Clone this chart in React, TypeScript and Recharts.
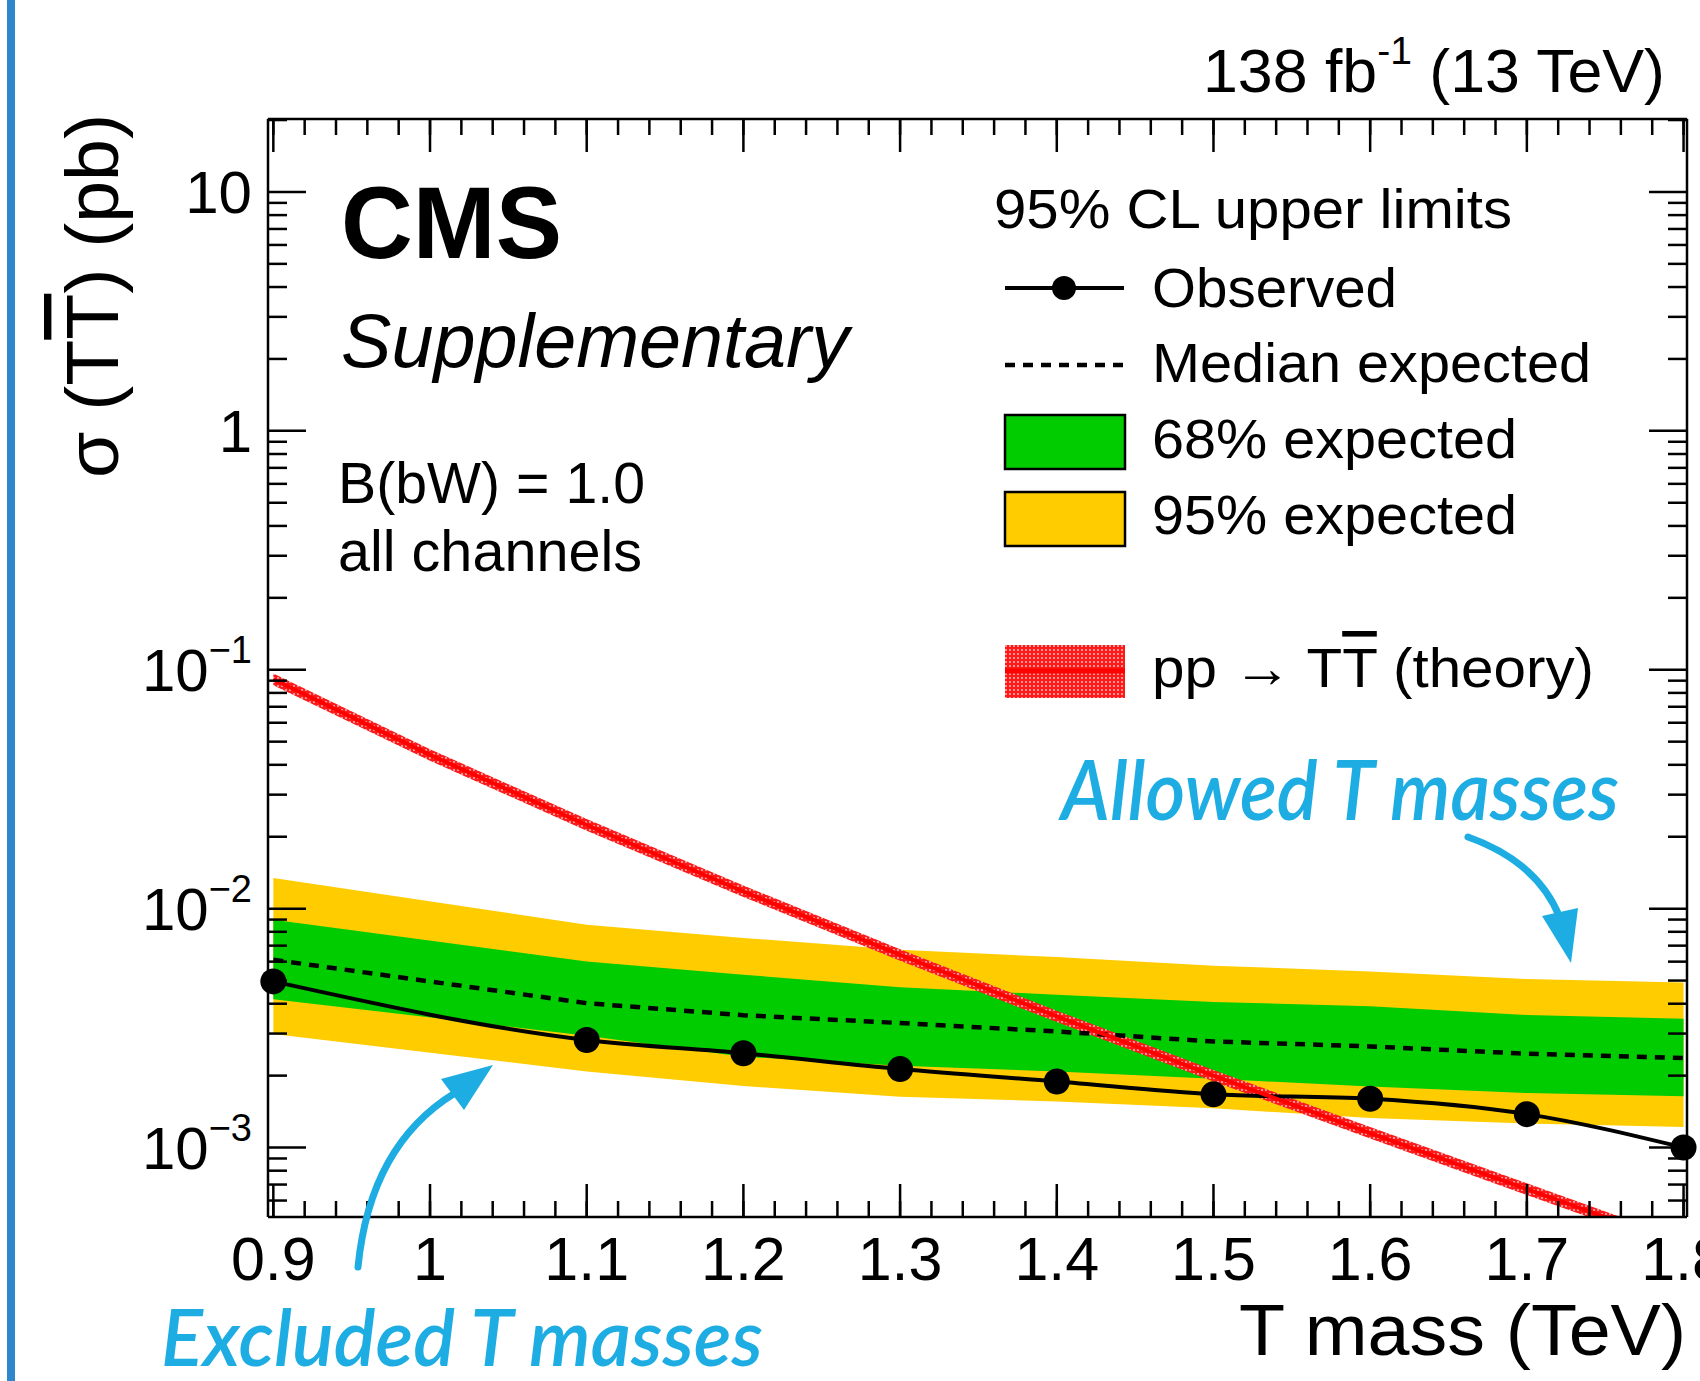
import React from "react";
import { Area, ComposedChart, Line, XAxis, YAxis } from "recharts";

// Limits vs T mass (TeV). No limit point at 1.0 TeV.
const MASS = [0.9, 1.1, 1.2, 1.3, 1.4, 1.5, 1.6, 1.7, 1.8];
const OBSERVED = [0.00496, 0.00282, 0.00248, 0.00213, 0.00189, 0.00167, 0.0016, 0.00138, 0.001];
const EXPECTED = [0.00611, 0.00402, 0.00358, 0.00332, 0.00306, 0.00278, 0.00265, 0.00247, 0.00237];
const EXP68_LO = [0.00418, 0.00294, 0.0024, 0.0022, 0.00208, 0.00194, 0.0018, 0.00169, 0.00164];
const EXP68_HI = [0.00899, 0.00601, 0.00529, 0.00469, 0.00436, 0.00407, 0.0039, 0.00359, 0.00346];
const EXP95_LO = [0.00299, 0.00208, 0.00181, 0.00163, 0.00156, 0.00146, 0.00133, 0.00126, 0.00122];
const EXP95_HI = [0.01345, 0.00857, 0.00754, 0.00673, 0.00627, 0.00577, 0.00546, 0.00507, 0.00491];

// pp -> TTbar theory cross section with its uncertainty band
const THEORY_MASS = [0.9, 1.0, 1.1, 1.2, 1.3, 1.4, 1.5, 1.6, 1.7, 1.8];
const THEORY = [0.0912, 0.044, 0.0224, 0.0118, 0.0064, 0.00354, 0.002, 0.00115, 0.00067, 0.00039];
const THEORY_LO = [0.0862, 0.0416, 0.0212, 0.0112, 0.00605, 0.00335, 0.00189, 0.00109, 0.000633, 0.000369];
const THEORY_HI = [0.0964, 0.0465, 0.0237, 0.0125, 0.00676, 0.00374, 0.00211, 0.00122, 0.000708, 0.000412];

// axis ticks and labels
const X_TICKS = [0.9, 1.0, 1.1, 1.2, 1.3, 1.4, 1.5, 1.6, 1.7, 1.8];
const X_TICK_LABELS = ["0.9", "1", "1.1", "1.2", "1.3", "1.4", "1.5", "1.6", "1.7", "1.8"];
const Y_TICKS = [0.001, 0.01, 0.1, 1, 10];
const Y_TICK_BASE = ["10", "10", "10", "1", "10"];
const Y_TICK_EXP = ["\u22123", "\u22122", "\u22121", "", ""];

const X_DOMAIN: [number, number] = [0.8966, 1.8022];
const Y_DOMAIN: [number, number] = [5.12e-4, 20.2];

// minor ticks: 0.02 TeV steps, 2..9 per decade
const X_MINOR = Array.from({ length: 46 }, (_, k) => 0.9 + 0.02 * k);
const Y_MINOR = [1e-4, 1e-3, 1e-2, 1e-1, 1, 10]
  .flatMap((d) => [2, 3, 4, 5, 6, 7, 8, 9].map((m) => m * d))
  .filter((v) => v >= Y_DOMAIN[0] && v <= Y_DOMAIN[1]);

const limitRows = MASS.map((m, i) => ({
  m,
  obs: OBSERVED[i],
  exp: EXPECTED[i],
  b68: [EXP68_LO[i], EXP68_HI[i]],
  b95: [EXP95_LO[i], EXP95_HI[i]],
}));

const theoryRows = THEORY_MASS.map((m, i) => ({
  m,
  th: THEORY[i],
  thBand: [THEORY_LO[i], THEORY_HI[i]],
}));

const FONT = '"Liberation Sans", Arial, Helvetica, sans-serif';
const BLUE = "#1eade3";
const AXIS = { stroke: "#000", strokeWidth: 2.5 };

// tick lines only, no label
const noLabel = () => <g />;

function XTick(props: any) {
  const { x, y, payload } = props;
  const i = X_TICKS.indexOf(payload.value);
  return (
    <text x={x} y={y} textAnchor="middle" fontSize={61} fontFamily={FONT} fill="#000">
      {X_TICK_LABELS[i]}
    </text>
  );
}

function YTick(props: any) {
  const { x, y, payload } = props;
  const i = Y_TICKS.indexOf(payload.value);
  return (
    <text x={x} y={y} dy={21} textAnchor="end" fontSize={60} fontFamily={FONT} fill="#000">
      {Y_TICK_BASE[i]}
      {Y_TICK_EXP[i] && (
        <tspan fontSize={38} dy={-28}>
          {Y_TICK_EXP[i]}
        </tspan>
      )}
    </text>
  );
}

function Overlay() {
  return (
    <svg
      width={1700}
      height={1381}
      style={{ position: "absolute", left: 0, top: 0, pointerEvents: "none" }}
      fontFamily={FONT}
    >
      <defs>
        <pattern id="hatch" width={4} height={4} patternUnits="userSpaceOnUse">
          <rect width={4} height={4} fill="#ff1a1a" />
          <circle cx={2} cy={2} r={0.9} fill="#ffd0d0" />
        </pattern>
      </defs>

      {/* page side bar */}
      <rect x={7} y={0} width={8} height={1381} fill="#2e86cc" />

      {/* header */}
      <text x={1203} y={92} fontSize={61} textLength={462} lengthAdjust="spacingAndGlyphs">
        138 fb
        <tspan fontSize={38} dy={-28}>-1</tspan>
        <tspan fontSize={61} dy={28}> (13 TeV)</tspan>
      </text>

      <text x={341} y={258} fontSize={102} fontWeight="bold" textLength={221} lengthAdjust="spacingAndGlyphs">
        CMS
      </text>
      <text x={341} y={367} fontSize={76} fontStyle="italic" textLength={508} lengthAdjust="spacingAndGlyphs">
        Supplementary
      </text>
      <text x={338} y={503} fontSize={57} textLength={307} lengthAdjust="spacingAndGlyphs">
        B(bW) = 1.0
      </text>
      <text x={338} y={571} fontSize={57} textLength={304} lengthAdjust="spacingAndGlyphs">
        all channels
      </text>

      {/* axis titles */}
      <text
        transform="translate(118,114) rotate(-90)"
        textAnchor="end"
        fontSize={74}
        textLength={364}
        lengthAdjust="spacingAndGlyphs"
      >
        σ (T<tspan style={{ textDecoration: "overline" }}>T</tspan>) (pb)
      </text>
      <text x={1686} y={1355} textAnchor="end" fontSize={73} textLength={447} lengthAdjust="spacingAndGlyphs">
        T mass (TeV)
      </text>

      {/* legend */}
      <text x={994} y={228} fontSize={56} textLength={518} lengthAdjust="spacingAndGlyphs">
        95% CL upper limits
      </text>
      <line x1={1005} x2={1124} y1={288} y2={288} stroke="#000" strokeWidth={4} />
      <circle cx={1064} cy={288} r={12} fill="#000" />
      <text x={1152} y={307} fontSize={56} textLength={245} lengthAdjust="spacingAndGlyphs">
        Observed
      </text>
      <line x1={1005} x2={1124} y1={365} y2={365} stroke="#000" strokeWidth={4.5} strokeDasharray="10 8" />
      <text x={1152} y={382} fontSize={56} textLength={439} lengthAdjust="spacingAndGlyphs">
        Median expected
      </text>
      <rect x={1005} y={415} width={120} height={54} fill="#00cc00" stroke="#000" strokeWidth={2.5} />
      <text x={1152} y={458} fontSize={56} textLength={365} lengthAdjust="spacingAndGlyphs">
        68% expected
      </text>
      <rect x={1005} y={492} width={120} height={54} fill="#ffcc00" stroke="#000" strokeWidth={2.5} />
      <text x={1152} y={534} fontSize={56} textLength={365} lengthAdjust="spacingAndGlyphs">
        95% expected
      </text>
      <rect x={1005} y={645} width={120} height={53} fill="url(#hatch)" />
      <line x1={1005} x2={1125} y1={671} y2={671} stroke="#ff0000" strokeWidth={5} />
      <text x={1152} y={687} fontSize={56} textLength={442} lengthAdjust="spacingAndGlyphs">
        pp → T<tspan style={{ textDecoration: "overline" }}>T</tspan> (theory)
      </text>

      {/* hand-drawn annotations */}
      <text
        x={1061}
        y={820}
        fontSize={82}
        fontFamily="Lato, 'Open Sans', sans-serif"
        fontStyle="italic"
        fontWeight={600}
        fill={BLUE}
        textLength={558}
        lengthAdjust="spacingAndGlyphs"
      >
        Allowed T masses
      </text>
      <path d="M1468,837 Q1538,862 1560,918" fill="none" stroke={BLUE} strokeWidth={7} strokeLinecap="round" />
      <polygon points="1542,916 1578,908 1571,963" fill={BLUE} />

      <text
        x={161}
        y={1366}
        fontSize={78}
        fontFamily="Lato, 'Open Sans', sans-serif"
        fontStyle="italic"
        fontWeight={600}
        fill={BLUE}
        textLength={602}
        lengthAdjust="spacingAndGlyphs"
      >
        Excluded T masses
      </text>
      <path d="M358,1267 Q370,1145 455,1093" fill="none" stroke={BLUE} strokeWidth={7} strokeLinecap="round" />
      <polygon points="441,1079 493,1065 464,1110" fill={BLUE} />
    </svg>
  );
}

export default function App() {
  return (
    <div
      style={{
        position: "absolute",
        left: 0,
        top: 0,
        width: 1700,
        height: 1381,
        background: "#fff",
        overflow: "hidden",
      }}
    >
      <ComposedChart
        width={1700}
        height={1381}
        data={limitRows}
        margin={{ top: 117, right: 11, bottom: 162, left: 266 }}
      >
        {/* bottom axis with labels + inward ticks */}
        <XAxis
          xAxisId="x"
          dataKey="m"
          type="number"
          domain={X_DOMAIN}
          allowDataOverflow
          ticks={X_TICKS}
          interval={0}
          tick={(p: any) => <XTick {...p} />}
          tickSize={-33}
          tickMargin={96}
          height={1}
          axisLine={AXIS}
          tickLine={AXIS}
        />
        <XAxis
          xAxisId="xmin"
          dataKey="m"
          type="number"
          domain={X_DOMAIN}
          allowDataOverflow
          ticks={X_MINOR}
          interval={0}
          tick={noLabel}
          tickSize={-17}
          height={1}
          axisLine={false}
          tickLine={AXIS}
        />
        <XAxis
          xAxisId="xtop"
          orientation="top"
          dataKey="m"
          type="number"
          domain={X_DOMAIN}
          allowDataOverflow
          ticks={X_TICKS}
          interval={0}
          tick={noLabel}
          tickSize={-33}
          height={1}
          axisLine={AXIS}
          tickLine={AXIS}
        />
        <XAxis
          xAxisId="xtopmin"
          orientation="top"
          dataKey="m"
          type="number"
          domain={X_DOMAIN}
          allowDataOverflow
          ticks={X_MINOR}
          interval={0}
          tick={noLabel}
          tickSize={-17}
          height={1}
          axisLine={false}
          tickLine={AXIS}
        />

        <YAxis
          yAxisId="y"
          type="number"
          scale="log"
          domain={Y_DOMAIN}
          allowDataOverflow
          ticks={Y_TICKS}
          interval={0}
          tick={(p: any) => <YTick {...p} />}
          tickSize={-38}
          tickMargin={54}
          width={1}
          axisLine={AXIS}
          tickLine={AXIS}
        />
        <YAxis
          yAxisId="ymin"
          type="number"
          scale="log"
          domain={Y_DOMAIN}
          allowDataOverflow
          ticks={Y_MINOR}
          interval={0}
          tick={noLabel}
          tickSize={-20}
          width={1}
          axisLine={false}
          tickLine={AXIS}
        />
        <YAxis
          yAxisId="yright"
          orientation="right"
          type="number"
          scale="log"
          domain={Y_DOMAIN}
          allowDataOverflow
          ticks={Y_TICKS}
          interval={0}
          tick={noLabel}
          tickSize={-38}
          width={1}
          axisLine={AXIS}
          tickLine={AXIS}
        />
        <YAxis
          yAxisId="yrightmin"
          orientation="right"
          type="number"
          scale="log"
          domain={Y_DOMAIN}
          allowDataOverflow
          ticks={Y_MINOR}
          interval={0}
          tick={noLabel}
          tickSize={-20}
          width={1}
          axisLine={false}
          tickLine={AXIS}
        />

        <Area
          xAxisId="x"
          yAxisId="y"
          dataKey="b95"
          type="linear"
          fill="#ffcc00"
          fillOpacity={1}
          stroke="none"
          dot={false}
          activeDot={false}
          isAnimationActive={false}
        />
        <Area
          xAxisId="x"
          yAxisId="y"
          dataKey="b68"
          type="linear"
          fill="#00cc00"
          fillOpacity={1}
          stroke="none"
          dot={false}
          activeDot={false}
          isAnimationActive={false}
        />
        <Line
          xAxisId="x"
          yAxisId="y"
          dataKey="exp"
          type="linear"
          stroke="#000"
          strokeWidth={4.5}
          strokeDasharray="10 8"
          dot={false}
          activeDot={false}
          isAnimationActive={false}
        />
        <Line
          xAxisId="x"
          yAxisId="y"
          dataKey="obs"
          type="monotone"
          stroke="#000"
          strokeWidth={4}
          dot={{ r: 13, fill: "#000", stroke: "#000", strokeWidth: 0, clipDot: false }}
          activeDot={false}
          isAnimationActive={false}
        />
        <Area
          xAxisId="x"
          yAxisId="y"
          data={theoryRows}
          dataKey="thBand"
          type="linear"
          fill="url(#hatch)"
          fillOpacity={1}
          stroke="none"
          dot={false}
          activeDot={false}
          isAnimationActive={false}
        />
        <Line
          xAxisId="x"
          yAxisId="y"
          data={theoryRows}
          dataKey="th"
          type="linear"
          stroke="#ff0000"
          strokeWidth={4}
          dot={false}
          activeDot={false}
          isAnimationActive={false}
        />
      </ComposedChart>
      <Overlay />
    </div>
  );
}
